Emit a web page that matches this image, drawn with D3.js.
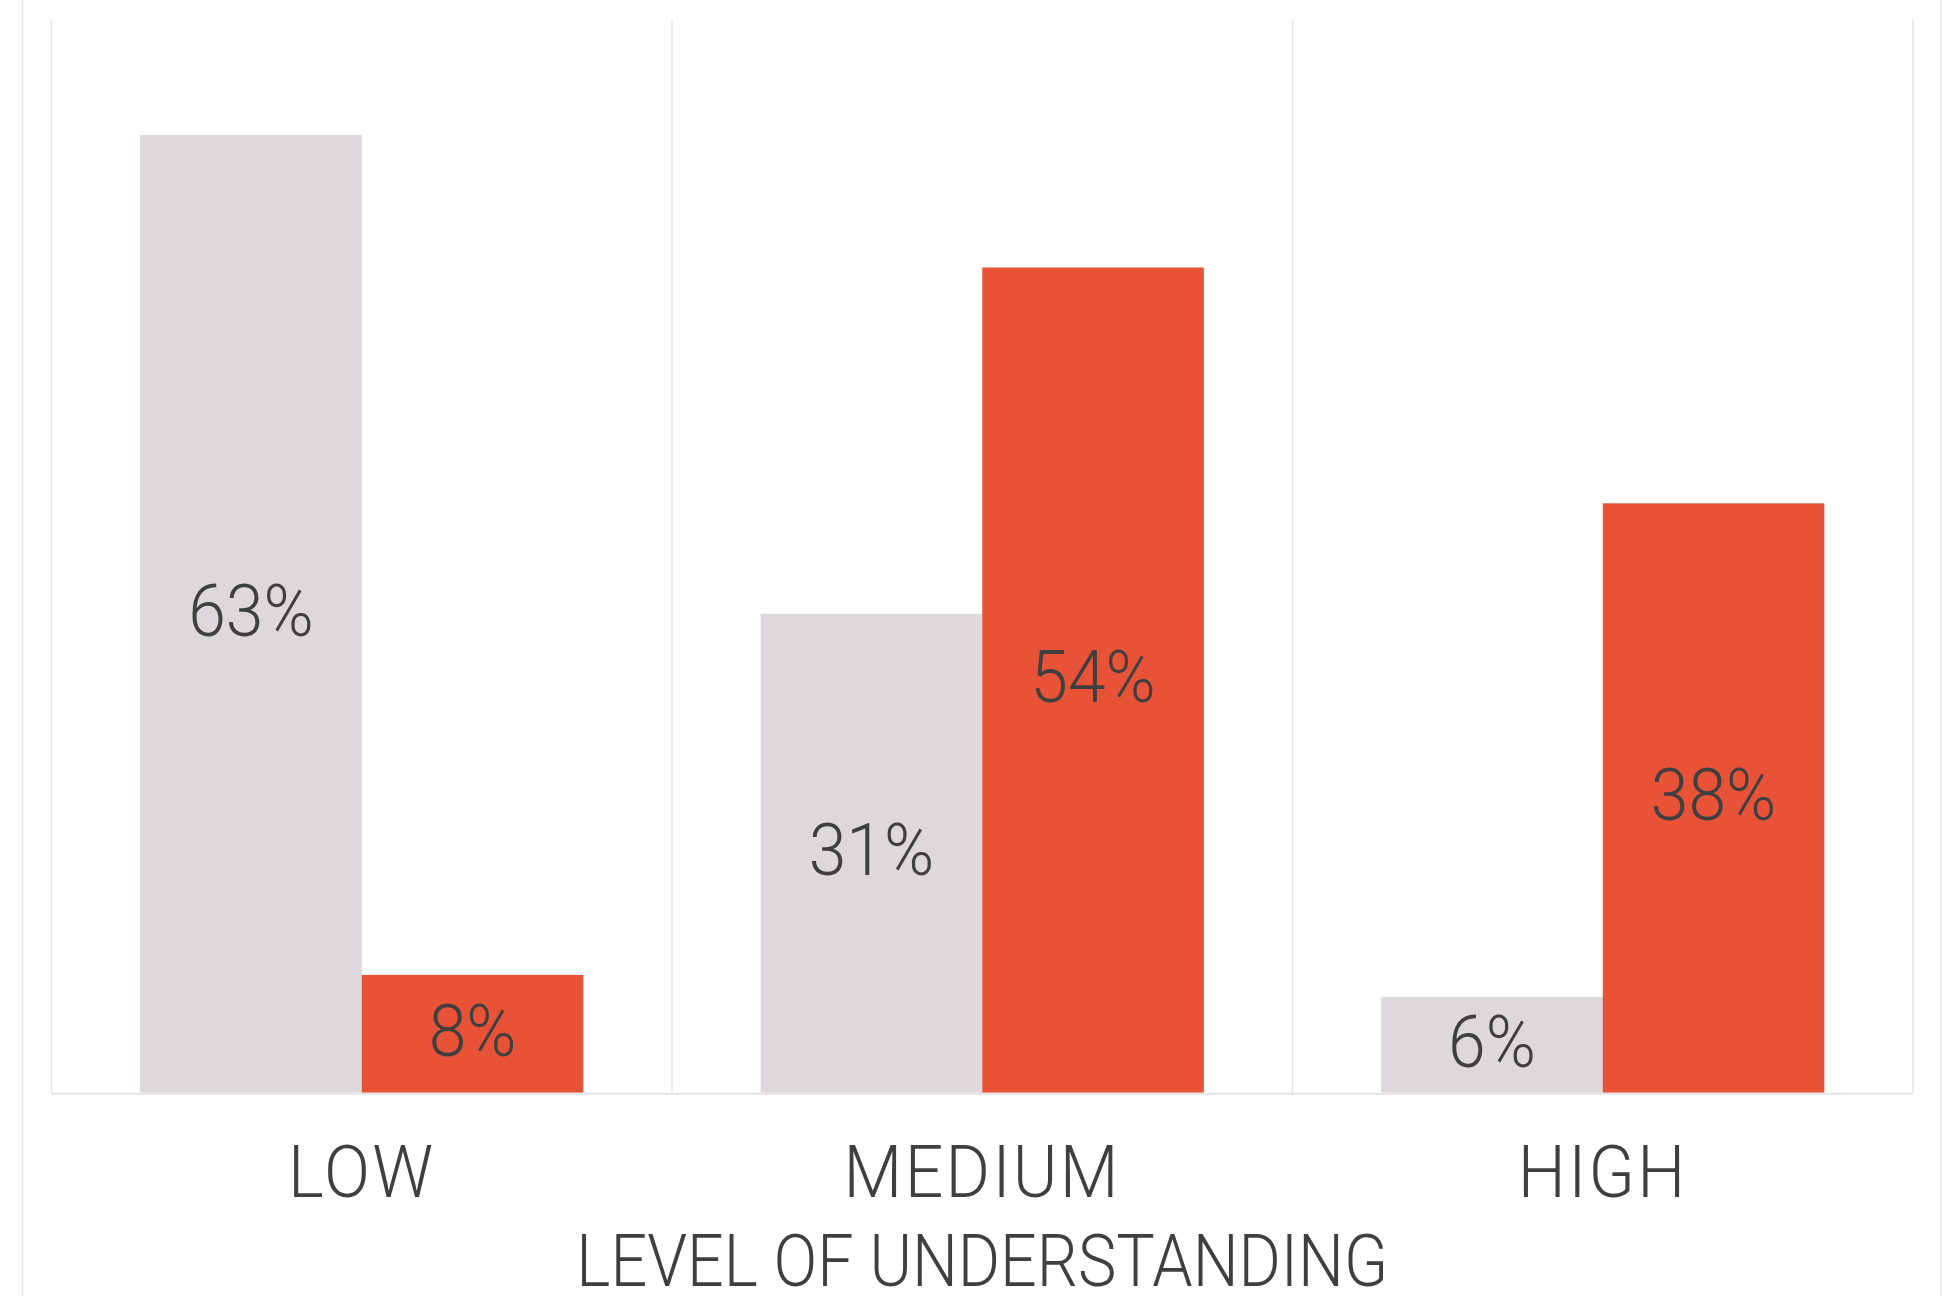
<!DOCTYPE html>
<html>
<head>
<meta charset="utf-8">
<script src="https://cdn.jsdelivr.net/npm/d3@7"></script>
<style>
  html, body { margin: 0; padding: 0; background: #ffffff; }
  svg { display: block; }
  text { font-family: Roboto, "Open Sans", sans-serif; font-weight: 300; fill: #3f3f3f; }
</style>
</head>
<body>
<svg id="chart" width="1960" height="1296"></svg>
<script>
// ---- data ----
const categories = ["LOW", "MEDIUM", "HIGH"];
const seriesNames = ["Series A", "Series B"];
const seriesA = [62.5, 31.25, 6.25];      // grey bars (%)
const seriesB = [7.69, 53.85, 38.46];     // red bars (%)
const axisTitle = "LEVEL OF UNDERSTANDING";
const yMax = 70;

// ---- layout ----
const W = 1960, H = 1296;
const plot = { left: 51.5, right: 1913, top: 20, bottom: 1092.7 };
const colors = { "Series A": "#ddd8db", "Series B": "#e85337" };

const svg = d3.select("#chart");

// outer chart frame
svg.append("rect")
  .attr("x", 22.5).attr("y", -10)
  .attr("width", 1941 - 22.5).attr("height", H + 20)
  .attr("fill", "none").attr("stroke", "#e6e6e6").attr("stroke-width", 1.5);

const x = d3.scaleBand().domain(categories).range([plot.left, plot.right]).paddingInner(0).paddingOuter(0);
const xs = d3.scaleBand().domain(seriesNames).range([0, x.bandwidth()]).paddingInner(0).paddingOuter(0.4);
const y = d3.scaleLinear().domain([0, yMax]).range([plot.bottom, plot.top]);

// category separator gridlines
const bounds = categories.map(c => x(c)).concat([plot.right]);
svg.append("g").selectAll("line").data(bounds).join("line")
  .attr("x1", d => d).attr("x2", d => d)
  .attr("y1", y(yMax)).attr("y2", y(0))
  .attr("stroke", "#e5e5e5").attr("stroke-width", 1.5);

const rows = categories.map((c, i) => ({ cat: c, vals: [
  { s: seriesNames[0], v: seriesA[i] },
  { s: seriesNames[1], v: seriesB[i] } ] }));

const groups = svg.append("g").selectAll("g").data(rows).join("g")
  .attr("transform", d => `translate(${x(d.cat)},0)`);

groups.selectAll("rect").data(d => d.vals).join("rect")
  .attr("x", d => xs(d.s)).attr("width", xs.bandwidth())
  .attr("y", d => y(d.v)).attr("height", d => y(0) - y(d.v))
  .attr("fill", d => colors[d.s]);

// baseline
svg.append("line")
  .attr("x1", plot.left).attr("x2", plot.right)
  .attr("y1", y(0) + 1).attr("y2", y(0) + 1)
  .attr("stroke", "#e3e3e3").attr("stroke-width", 2);

// data labels
const fs = 73;
groups.selectAll("text").data(d => d.vals).join("text")
  .attr("transform", d => `translate(${xs(d.s) + xs.bandwidth() / 2},${(y(d.v) + y(0)) / 2}) scale(0.93,1)`)
  .attr("text-anchor", "middle")
  .attr("dy", "0.3em")
  .style("font-size", fs + "px")
  .text(d => Math.round(d.v) + "%");

// category axis labels
svg.append("g").selectAll("text").data(categories).join("text")
  .attr("transform", d => `translate(${x(d) + x.bandwidth() / 2},1197) scale(0.93,1)`)
  .attr("text-anchor", "middle")
  .style("font-size", fs + "px")
  .style("letter-spacing", "2.5px")
  .text(d => d);

// axis title
svg.append("text")
  .attr("transform", `translate(${(plot.left + plot.right) / 2},1286) scale(0.885,1)`)
  .attr("text-anchor", "middle")
  .style("font-size", fs + "px")
  .text(axisTitle);
</script>
</body>
</html>
